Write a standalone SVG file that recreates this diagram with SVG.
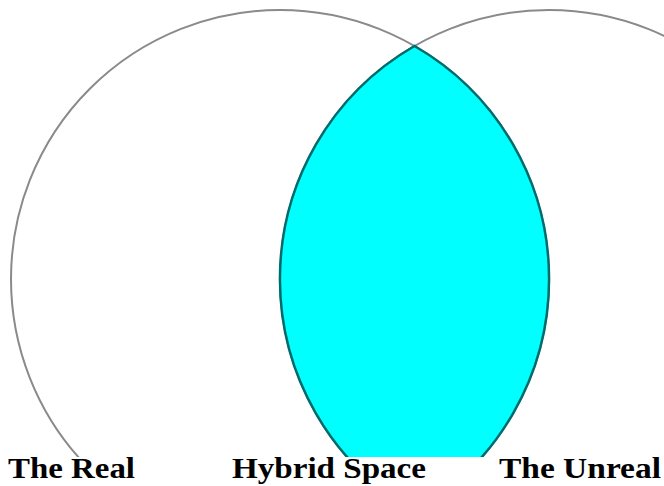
<svg xmlns="http://www.w3.org/2000/svg" width="664" height="486" viewBox="0 0 664 486">
<style>
.ring{fill:none;stroke:#8a8a8a;stroke-width:2}
.lens{fill:#00ffff;stroke:#006b6b;stroke-width:2.5}
.lbl{font-family:"Liberation Serif",serif;font-weight:bold;font-size:30px;fill:#000}
</style>
<defs>
<clipPath id="cut"><rect x="0" y="0" width="664" height="457"/></clipPath>
</defs>
<rect width="664" height="486" fill="#fff"/>
<g clip-path="url(#cut)">
<g id="real"><circle class="ring" cx="280" cy="279" r="269"/></g>
<g id="unreal"><circle class="ring" cx="549" cy="279" r="269"/></g>
<g id="hybrid"><path class="lens" d="M414.5 46 A269 269 0 0 0 414.5 512 A269 269 0 0 0 414.5 46 Z"/></g>
</g>
<g id="labels">
<text class="lbl" x="8" y="478" textLength="127" lengthAdjust="spacingAndGlyphs">The Real</text>
<text class="lbl" x="232" y="478" textLength="194" lengthAdjust="spacingAndGlyphs">Hybrid Space</text>
<text class="lbl" x="499" y="478" textLength="162" lengthAdjust="spacingAndGlyphs">The Unreal</text>
</g>
</svg>
